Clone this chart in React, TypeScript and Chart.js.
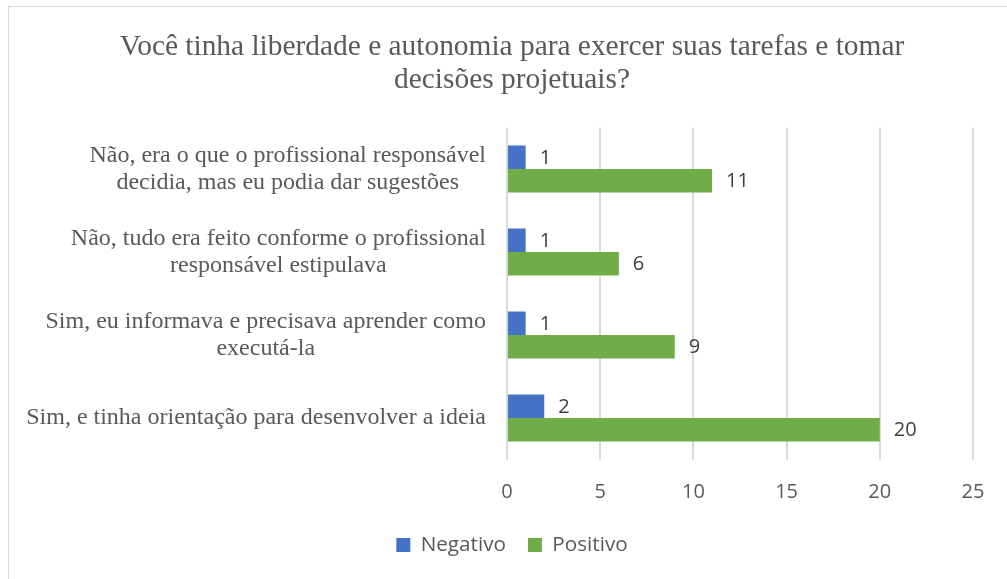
import React, { useEffect, useRef } from "react";
import { Chart, registerables } from "chart.js";

Chart.register(...registerables);

const titleLines = [
  "Você tinha liberdade e autonomia para exercer suas tarefas e tomar",
  "decisões projetuais?",
];
const categories: string[][] = [
  ["Não, era o que o profissional responsável", "decidia, mas eu podia dar sugestões"],
  ["Não, tudo era feito conforme o profissional", "responsável estipulava"],
  ["Sim, eu informava e precisava aprender como", "executá-la"],
  ["Sim, e tinha orientação para desenvolver a ideia"],
];
const seriesNames = ["Negativo", "Positivo"];
const negativo = [1, 1, 1, 2];
const positivo = [11, 6, 9, 20];
const xTicks = [0, 5, 10, 15, 20, 25];

const BLUE = "#4472C4";
const GREEN = "#70AD47";
const GRAY_TEXT = "#595959";
const LABEL_TEXT = "#404040";
const SANS = "'Open Sans', sans-serif";
const SERIF = "'Liberation Serif', 'Times New Roman', serif";

const categoryLabelPlugin = {
  id: "categoryLabels",
  afterDraw(chart: any) {
    const ctx = chart.ctx;
    const yScale = chart.scales.y;
    const area = chart.chartArea;
    ctx.save();
    ctx.font = `normal 24px ${SERIF}`;
    ctx.fillStyle = GRAY_TEXT;
    ctx.textAlign = "center";
    ctx.textBaseline = "middle";
    const lineH = 27;
    const right = area.left - 21;
    categories.forEach((lines, i) => {
      const y = yScale.getPixelForTick(i);
      const maxW = Math.max(...lines.map((l) => ctx.measureText(l).width));
      const cx = right - maxW / 2;
      const startY = y - ((lines.length - 1) * lineH) / 2;
      lines.forEach((l, j) => ctx.fillText(l, cx, startY + j * lineH));
    });
    ctx.restore();
  },
};

const dataLabelPlugin = {
  id: "dataLabels",
  afterDatasetsDraw(chart: any) {
    const ctx = chart.ctx;
    ctx.save();
    ctx.font = `normal 20px ${SANS}`;
    ctx.fillStyle = LABEL_TEXT;
    ctx.textAlign = "left";
    ctx.textBaseline = "middle";
    chart.data.datasets.forEach((ds: any, di: number) => {
      const meta = chart.getDatasetMeta(di);
      meta.data.forEach((bar: any, i: number) => {
        ctx.fillText(String(ds.data[i]), bar.x + 14, bar.y + 1);
      });
    });
    ctx.restore();
  },
};

export default function App() {
  const ref = useRef<HTMLCanvasElement | null>(null);

  useEffect(() => {
    if (!ref.current) return;
    const chart = new Chart(ref.current, {
      type: "bar",
      data: {
        labels: categories,
        datasets: [
          {
            label: seriesNames[0],
            data: negativo,
            backgroundColor: BLUE,
            barPercentage: 1,
            categoryPercentage: 0.566,
          },
          {
            label: seriesNames[1],
            data: positivo,
            backgroundColor: GREEN,
            barPercentage: 1,
            categoryPercentage: 0.566,
          },
        ],
      },
      options: {
        indexAxis: "y",
        responsive: false,
        animation: false,
        layout: { padding: { left: 42, right: 34, top: 0, bottom: 13.65 } },
        scales: {
          y: {
            type: "category",
            position: "left",
            ticks: { display: false },
            grid: { display: false },
            border: { display: false },
            afterFit: (s: any) => {
              s.width = 456;
            },
          },
          x: {
            position: "bottom",
            min: xTicks[0],
            max: xTicks[xTicks.length - 1],
            ticks: {
              stepSize: xTicks[1] - xTicks[0],
              color: GRAY_TEXT,
              font: { family: SANS, size: 20 },
              padding: 20.5,
            },
            grid: { color: "#d9d9d9", lineWidth: 2, drawTicks: false },
            border: { display: false },
            afterFit: (s: any) => {
              s.height = 53.15;
            },
          },
        },
        plugins: {
          title: {
            display: true,
            text: titleLines,
            color: GRAY_TEXT,
            font: { family: SERIF, size: 29.4, weight: "normal", lineHeight: 33 / 29.4 },
            padding: { top: 24, bottom: 30.5 },
          },
          legend: {
            display: true,
            position: "bottom",
            labels: {
              boxWidth: 14,
              boxHeight: 14,
              padding: 22,
              color: GRAY_TEXT,
              font: { family: SANS, size: 20.7 },
            },
          },
          tooltip: { enabled: false },
        },
      },
      plugins: [categoryLabelPlugin, dataLabelPlugin],
    } as any);
    return () => chart.destroy();
  }, []);

  return (
    <div
      style={{
        position: "fixed",
        left: 0,
        top: 0,
        width: 1007,
        height: 579,
        overflow: "hidden",
        background: "#ffffff",
      }}
    >
      <div
        style={{
          position: "absolute",
          left: 8,
          top: 6,
          width: 1030,
          height: 600,
          border: "1px solid #d9d9d9",
          boxSizing: "border-box",
          background: "#ffffff",
        }}
      >
        <canvas ref={ref} width={998} height={572} style={{ display: "block" }} />
      </div>
    </div>
  );
}
